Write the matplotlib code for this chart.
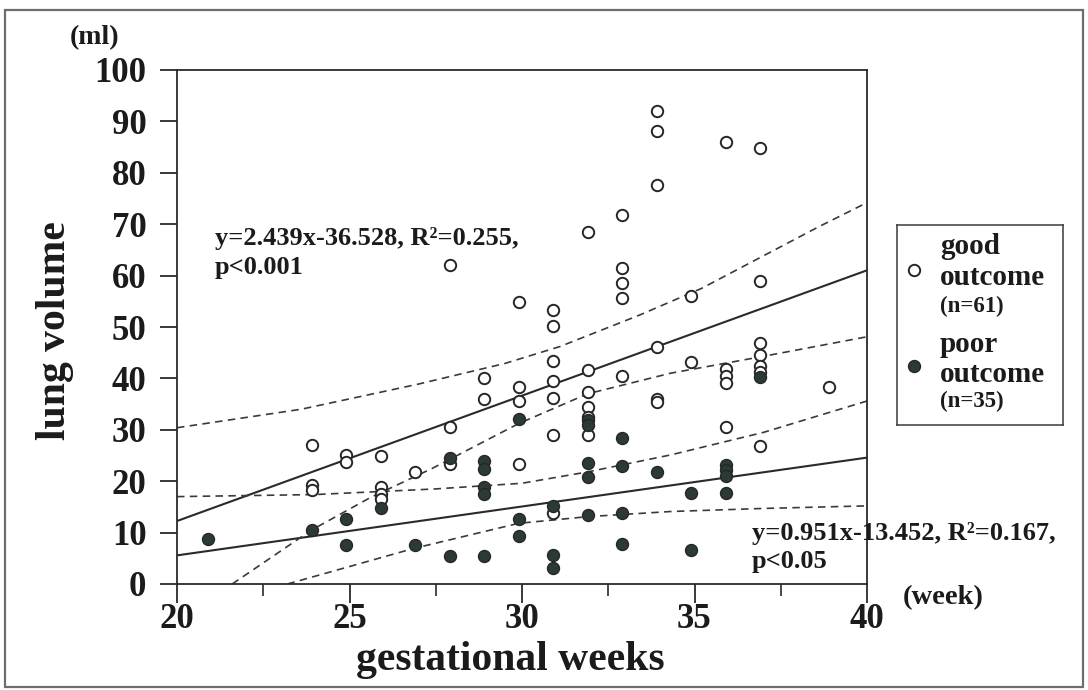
import matplotlib
matplotlib.use("Agg")
import matplotlib.pyplot as plt
from matplotlib.patches import Rectangle

plt.rcParams['font.family'] = ['Liberation Serif', 'DejaVu Serif']
plt.rcParams['font.weight'] = 'bold'

TXT = '#1b1b1b'

# ---------------- data ----------------
good_weeks = [23.9, 23.9, 23.9,
              24.9, 24.9,
              25.9, 25.9, 25.9, 25.9,
              26.9,
              27.9, 27.9, 27.9,
              28.9, 28.9,
              29.9, 29.9, 29.9, 29.9,
              30.9, 30.9, 30.9, 30.9, 30.9, 30.9, 30.9,
              31.9, 31.9, 31.9, 31.9, 31.9, 31.9,
              32.9, 32.9, 32.9, 32.9, 32.9,
              33.9, 33.9, 33.9, 33.9, 33.9, 33.9,
              34.9, 34.9,
              35.9, 35.9, 35.9, 35.9, 35.9,
              36.9, 36.9, 36.9, 36.9, 36.9, 36.9, 36.9,
              38.9]
good_ml = [27.0, 19.3, 18.3,
           25.1, 23.8,
           25.0, 18.9, 17.6, 16.5,
           21.7,
           62.1, 30.5, 23.3,
           40.0, 35.9,
           54.9, 38.4, 35.6, 23.3,
           53.3, 50.1, 43.4, 39.5, 36.1, 28.9, 13.8,
           68.4, 41.6, 37.3, 34.5, 32.5, 29.0,
           71.8, 61.5, 58.5, 55.6, 40.5,
           92.0, 88.2, 77.6, 46.2, 36.0, 35.5,
           56.0, 43.2,
           86.0, 41.8, 40.5, 39.2, 30.6,
           84.9, 58.9, 46.8, 44.6, 42.4, 41.2, 26.8,
           38.4]

poor_weeks = [20.9, 23.9, 24.9, 24.9, 25.9, 26.9,
              27.9, 27.9,
              28.9, 28.9, 28.9, 28.9, 28.9,
              29.9, 29.9, 29.9,
              30.9, 30.9, 30.9,
              31.9, 31.9, 31.9, 31.9, 31.9,
              32.9, 32.9, 32.9, 32.9,
              33.9,
              34.9, 34.9,
              35.9, 35.9, 35.9, 35.9,
              36.9]
poor_ml = [8.7, 10.5, 12.6, 7.6, 14.8, 7.6,
           24.5, 5.4,
           24.0, 22.4, 18.9, 17.5, 5.4,
           32.1, 12.6, 9.4,
           15.2, 5.6, 3.2,
           31.9, 30.9, 23.5, 20.9, 13.4,
           28.5, 23.0, 13.9, 7.8,
           21.8,
           17.8, 6.6,
           23.2, 22.2, 21.1, 17.8,
           40.3]

# regression equations (as printed on the chart)
good_slope, good_icpt = 2.439, -36.528
poor_slope, poor_icpt = 0.951, -13.452
fit_x = [20, 40]

# dashed confidence bands
good_upper_x = [20, 23.6, 27.0, 29.5, 31.1, 33.4, 35.2, 38.6, 40]
good_upper_y = [30.4, 34.0, 38.9, 42.9, 46.2, 52.3, 57.5, 69.5, 74.2]
good_lower_x = [21.6, 23.9, 25.6, 27.4, 29.9, 31.9, 34.3, 37.0, 40]
good_lower_y = [0.0, 10.5, 16.8, 22.5, 31.2, 37.0, 41.0, 44.3, 48.1]
poor_upper_x = [20, 24, 27.5, 30, 31.9, 34.3, 37, 40]
poor_upper_y = [17.0, 17.4, 18.5, 19.6, 21.8, 25.1, 29.5, 35.6]
poor_lower_x = [23.2, 25, 26.85, 29.9, 31.9, 34.3, 37, 40]
poor_lower_y = [0.0, 3.4, 6.9, 11.8, 13.1, 14.1, 14.7, 15.2]

x_ticks = [20, 25, 30, 35, 40]
x_minor = [22.5, 27.5, 32.5, 37.5]
y_ticks = [0, 10, 20, 30, 40, 50, 60, 70, 80, 90, 100]

# ---------------- figure ----------------
fig = plt.figure(figsize=(10.88, 6.9), dpi=100)
fig.patch.set_facecolor('white')

# outer frame
fig.add_artist(Rectangle((5 / 1088, 1 - 687 / 690), 1078 / 1088, 677 / 690,
                         transform=fig.transFigure, fill=False,
                         edgecolor='#6e6e6e', linewidth=1.6))

ax = fig.add_axes([177 / 1088, 1 - 584 / 690, 690 / 1088, 514 / 690])
ax.set_xlim(20, 40)
ax.set_ylim(0, 100)

line_c = '#2a2a2a'
# regression lines
ax.plot(fit_x, [good_slope * v + good_icpt for v in fit_x], color=line_c, lw=1.5, zorder=2)
ax.plot(fit_x, [poor_slope * v + poor_icpt for v in fit_x], color=line_c, lw=1.5, zorder=2)

dash = (0, (4.5, 3.2))
for bx, by in [(good_upper_x, good_upper_y), (good_lower_x, good_lower_y),
               (poor_upper_x, poor_upper_y), (poor_lower_x, poor_lower_y)]:
    ax.plot(bx, by, color='#3a3a3a', lw=1.2, linestyle=dash, zorder=2)

ax.plot(good_weeks, good_ml, linestyle='none', marker='o', ms=8.2,
        mfc='white', mec='#262626', mew=1.4, zorder=3)
ax.plot(poor_weeks, poor_ml, linestyle='none', marker='o', ms=8.6,
        mfc='#2c3a36', mec='#262626', mew=1.0, zorder=4)

for s in ax.spines.values():
    s.set_color('#2a2a2a')
    s.set_linewidth(1.3)

ax.set_xticks(x_ticks)
ax.set_xticks(x_minor, minor=True)
ax.set_yticks(y_ticks)
ax.tick_params(axis='x', which='major', direction='out', length=13.5, width=1.3,
               color='#2a2a2a', labelsize=25, pad=0, labelcolor=TXT)
ax.tick_params(axis='x', which='minor', direction='out', length=8.5, width=1.2,
               color='#2a2a2a')
ax.tick_params(axis='y', which='major', direction='out', length=12, width=1.3,
               color='#2a2a2a', labelsize=25, pad=10, labelcolor=TXT)
for lab in ax.get_xticklabels() + ax.get_yticklabels():
    lab.set_fontweight('bold')

# equation annotations
ax.text(21.1, 67.3, 'y=2.439x-36.528, R²=0.255,', fontsize=19, fontweight='bold',
        color=TXT, ha='left', va='center')
ax.text(21.1, 61.5, 'p<0.001', fontsize=19, fontweight='bold',
        color=TXT, ha='left', va='center')
ax.text(36.67, 9.9, 'y=0.951x-13.452, R²=0.167,', fontsize=19, fontweight='bold',
        color=TXT, ha='left', va='center', clip_on=False, zorder=5)
ax.text(36.67, 4.4, 'p<0.05', fontsize=19, fontweight='bold',
        color=TXT, ha='left', va='center', zorder=5)

# axis titles and units
fig.text(55 / 1088, 1 - 331 / 690, 'lung volume', rotation=90, fontsize=30,
         fontweight='bold', color=TXT, ha='center', va='center')
fig.text(510 / 1088, 1 - 660 / 690, 'gestational weeks', fontsize=30,
         fontweight='bold', color=TXT, ha='center', va='center')
fig.text(70 / 1088, 1 - 38 / 690, '(ml)', fontsize=20, fontweight='bold',
         color=TXT, ha='left', va='center')
fig.text(903 / 1088, 1 - 598 / 690, '(week)', fontsize=20.5, fontweight='bold',
         color=TXT, ha='left', va='center')

# legend box
lax = fig.add_axes([897 / 1088, 1 - 425 / 690, 166 / 1088, 200 / 690])
lax.set_xlim(0, 166)
lax.set_ylim(200, 0)
lax.set_xticks([])
lax.set_yticks([])
for s in lax.spines.values():
    s.set_color('#3a3a3a')
    s.set_linewidth(1.1)
lax.plot([17], [45], marker='o', ms=8.2, mfc='white', mec='#262626', mew=1.4)
lax.plot([17], [141], marker='o', ms=8.6, mfc='#2c3a36', mec='#262626', mew=1.0)
lax.text(43, 22, 'good', fontsize=21, fontweight='bold', color=TXT, va='center')
lax.text(43, 53, 'outcome', fontsize=21, fontweight='bold', color=TXT, va='center')
lax.text(43, 81, '(n=61)', fontsize=16.5, fontweight='bold', color=TXT, va='center')
lax.text(43, 120, 'poor', fontsize=21, fontweight='bold', color=TXT, va='center')
lax.text(43, 149, 'outcome', fontsize=21, fontweight='bold', color=TXT, va='center')
lax.text(43, 176, '(n=35)', fontsize=16.5, fontweight='bold', color=TXT, va='center')

fig.savefig('out.png', dpi=100, facecolor='white')
